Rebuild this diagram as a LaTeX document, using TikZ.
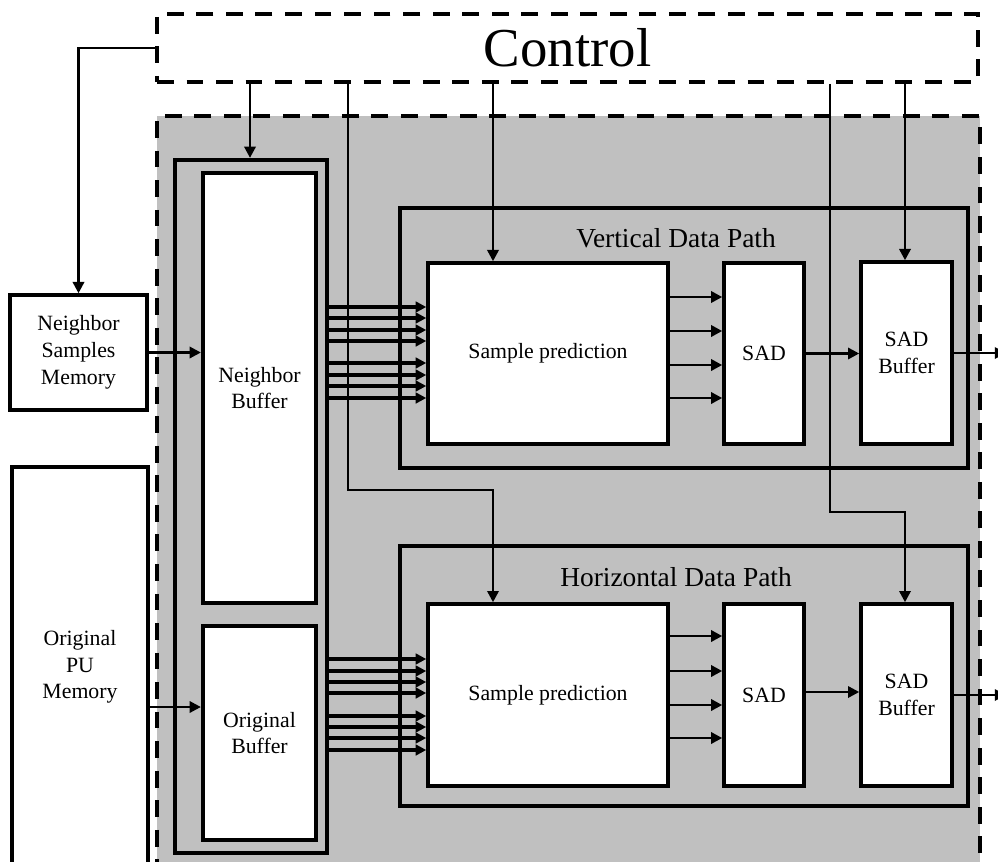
\documentclass[tikz,border=0pt]{standalone}
\usepackage{fontspec}
\setmainfont{Liberation Serif}
\usetikzlibrary{arrows.meta}
\definecolor{coregray}{RGB}{192,192,192}

\tikzset{
  sz/.style 2 args={minimum width=#1*0.025cm,minimum height=#2*0.025cm},
  blk/.style={draw,line width=2.5pt,fill=white,inner sep=0pt,align=center,font=\fontsize{15.5}{19}\selectfont},
  frame/.style={draw,line width=2.8pt,inner sep=0pt},
  dashbox/.style={draw,line width=2.8pt,dash pattern=on 12pt off 9pt,inner sep=0pt},
  ctrl/.style={line width=1.8pt,-{Triangle[length=8pt,width=8pt]}},
  bus/.style={line width=2.3pt,-{Triangle[length=7.5pt,width=7.5pt]}},
  title/.style={font=\fontsize{19.5}{23}\selectfont},
}

\begin{document}
\begin{tikzpicture}[x=0.025cm,y=-0.025cm]
\clip (0,0) rectangle (998,861);
\node[dashbox,fill=coregray,sz={823}{800}] (core) at (568.5,516) {};
\node[dashbox,sz={821}{68},font=\fontsize{39}{44}\selectfont] (control) at (567.5,48) {Control};

% memories
\node[blk,sz={137}{115}] (nsm) at (78.5,352.5) {Neighbor\\Samples\\Memory};
\node[blk,sz={136}{400}] (opm) at (80,667) {Original\\PU\\Memory};

% buffers
\node[frame,line width=3pt,sz={152}{693}] (nbank) at (251,506.5) {};
\node[blk,line width=3pt,sz={113}{430}] (nbuf) at (259.5,388) {Neighbor\\Buffer};
\node[blk,line width=3pt,sz={113}{214}] (obuf) at (259.5,733) {Original\\Buffer};

% vertical path
\node[frame,sz={568}{260}] (vpath) at (684,338) {};
\node[title] (vtitle) at (676,238) {Vertical Data Path};
\node[blk,sz={240}{181}] (vsp) at (548,353.5) {Sample prediction};
\node[blk,sz={80}{181}] (vsad) at (764,353.5) {SAD};
\node[blk,sz={91}{182}] (vsb) at (906.5,353) {SAD\\Buffer};

% horizontal path
\node[frame,sz={568}{260}] (hpath) at (684,676) {};
\node[title] (htitle) at (676,577) {Horizontal Data Path};
\node[blk,sz={240}{182}] (hsp) at (548,695) {Sample prediction};
\node[blk,sz={80}{182}] (hsad) at (764,695) {SAD};
\node[blk,sz={91}{182}] (hsb) at (906.5,695) {SAD\\Buffer};

\coordinate (vout) at (1006,353);
\coordinate (hout) at (1006,695);

% control lines
\draw[ctrl] (control.west) -| (nsm.north);
\draw[ctrl] (control.south -| 250,0) -- (nbank.north -| 250,0);
\draw[ctrl] (control.south -| 348,0) |- (493,490) -- (hsp.north -| 493,0);
\draw[ctrl] (control.south -| 493,0) -- (vsp.north -| 493,0);
\draw[ctrl] (control.south -| 830,0) |- (905,512) -- (hsb.north -| 905,0);
\draw[ctrl] (control.south -| 905,0) -- (vsb.north -| 905,0);

% data
\draw[ctrl] (nsm.east) -- (nsm.east -| nbuf.west);
\draw[ctrl] (opm.east |- 0,707) -- (obuf.west |- 0,707);
\foreach \y in {307,318,330,341,363,375,386,398}
  \draw[bus] (nbank.east |- 0,\y) -- (vsp.west |- 0,\y);
\foreach \y in {659,671,682,693,716,727,738,750}
  \draw[bus] (nbank.east |- 0,\y) -- (hsp.west |- 0,\y);
\foreach \y in {297,331,365,398}
  \draw[ctrl,line width=2pt] (vsp.east |- 0,\y) -- (vsad.west |- 0,\y);
\foreach \y in {636,671,705,738}
  \draw[ctrl,line width=2pt] (hsp.east |- 0,\y) -- (hsad.west |- 0,\y);
\draw[ctrl] (vsad.east) -- (vsb.west |- vsad.east);
\draw[ctrl] (hsad.east |- 0,692) -- (hsb.west |- 0,692);
\draw[ctrl] (vsb.east) -- (vout);
\draw[ctrl] (hsb.east) -- (hout);
\end{tikzpicture}
\end{document}
